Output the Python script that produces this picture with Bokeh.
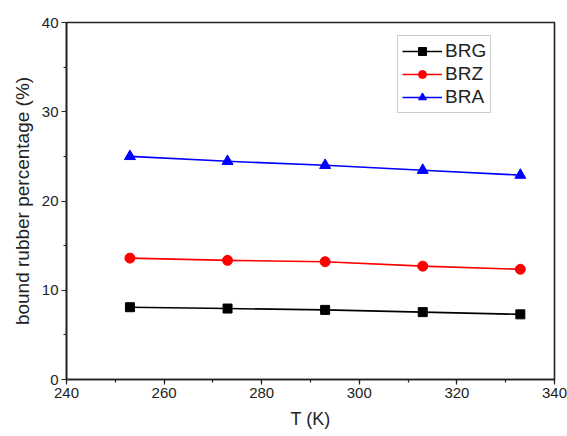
from bokeh.plotting import figure
from bokeh.models import Range1d, Legend, LegendItem, FixedTicker
from bokeh.embed import file_html
from bokeh.resources import INLINE

# Temperature (K) and bound rubber content (%) for the three compounds
temperature = [253, 273, 293, 313, 333]
brg = [8.1, 7.95, 7.8, 7.55, 7.3]
brz = [13.6, 13.35, 13.2, 12.7, 12.35]
bra = [25.0, 24.45, 24.0, 23.45, 22.9]

x_ticks = [240, 260, 280, 300, 320, 340]
y_ticks = [0, 10, 20, 30, 40]

FONT = "Liberation Sans"

p = figure(width=567, height=436, output_backend="svg", toolbar_location=None,
           x_range=Range1d(240, 340), y_range=Range1d(0, 40),
           min_border_left=66, min_border_right=13, min_border_top=22, min_border_bottom=57)

p.background_fill_color = "white"
p.border_fill_color = "white"
p.outline_line_color = "#222222"
p.outline_line_width = 1.6
p.xgrid.visible = False
p.ygrid.visible = False

for ax in (p.xaxis[0], p.yaxis[0]):
    ax.axis_line_color = "#222222"
    ax.axis_line_width = 1.6
    ax.major_tick_line_color = "#222222"
    ax.minor_tick_line_color = "#222222"
    ax.major_tick_line_width = 1.2
    ax.minor_tick_line_width = 1.2
    ax.major_tick_in = 0
    ax.major_tick_out = 5
    ax.minor_tick_in = 0
    ax.minor_tick_out = 3
    ax.major_label_text_font = FONT
    ax.major_label_text_font_size = "15px"
    ax.major_label_text_color = "#222222"
    ax.axis_label_text_font = FONT
    ax.axis_label_text_font_size = "18px"
    ax.axis_label_text_font_style = "normal"
    ax.axis_label_text_color = "#222222"

p.xaxis.ticker = FixedTicker(ticks=x_ticks, minor_ticks=list(range(240, 341, 10)))
p.yaxis.ticker = FixedTicker(ticks=y_ticks, minor_ticks=list(range(0, 41, 5)))
p.xaxis.axis_label = "T (K)"
p.yaxis.axis_label = "bound rubber percentage (%)"
p.xaxis.major_label_standoff = 3
p.yaxis.major_label_standoff = 3
p.xaxis.axis_label_standoff = 8
p.yaxis.axis_label_standoff = 6
p.yaxis.axis_label_text_font_size = "19px"

series = [
    ("BRG", brg, "black", "square", 9),
    ("BRZ", brz, "#ff0000", "circle", 10),
    ("BRA", bra, "#0000ff", "triangle", 11),
]

items = []
for name, ys, color, marker, size in series:
    ln = p.line(temperature, ys, line_color=color, line_width=1.6)
    sc = p.scatter(temperature, ys, marker=marker, size=size,
                   fill_color=color, line_color=color)
    items.append(LegendItem(label=name, renderers=[ln, sc]))

legend = Legend(items=items, location=(331, 266),
                label_text_font=FONT, label_text_font_size="19px",
                label_text_color="#222222",
                glyph_width=40, glyph_height=20, label_height=20,
                label_standoff=3, spacing=1, padding=4, margin=0,
                border_line_color="#999999", border_line_width=1,
                background_fill_color="white")
p.add_layout(legend, "center")

open("out.html", "w").write(file_html(p, INLINE))
